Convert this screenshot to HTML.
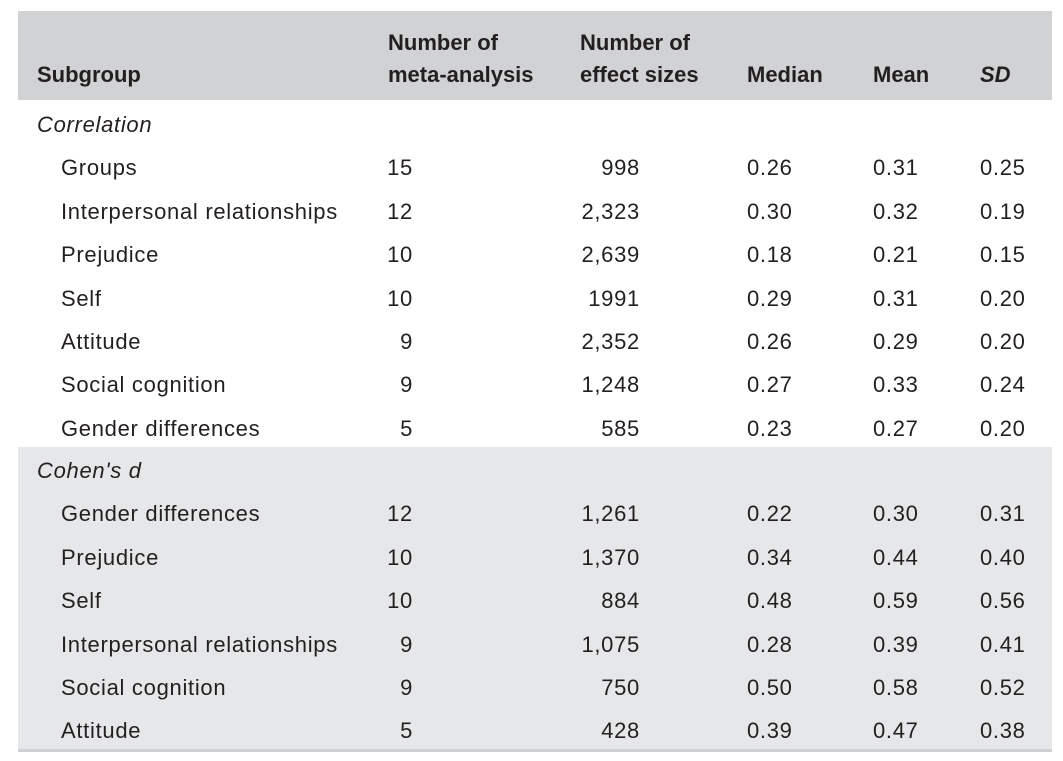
<!DOCTYPE html>
<html><head><meta charset="utf-8"><style>
body{margin:0;width:1063px;height:761px;background:#fff;position:relative;overflow:hidden;font-family:"Liberation Sans",sans-serif;color:#231f20;font-size:22px;letter-spacing:0.7px}
.bg{position:absolute}
.t{position:absolute;line-height:26px;white-space:nowrap}
.b{font-weight:bold;letter-spacing:0}
.i{font-style:italic}
</style></head><body>
<div class="bg" style="left:18px;top:11px;width:1034px;height:89px;background:#d1d2d4"></div>
<div class="bg" style="left:18px;top:447px;width:1034px;height:302px;background:#e6e7e8"></div>
<div class="bg" style="left:18px;top:749px;width:1034px;height:3px;background:#cfd0d2"></div>
<div id="tbl"></div>
<script>
const headers=[["Subgroup",37,74,false],["Number of",388,42,false],["meta-analysis",388,74,false],["Number of",580,42,false],["effect sizes",580,74,false],["Median",747,74,false],["Mean",873,74,false],["SD",980,74,true]];
const corr=[["Groups",15,"998","0.26","0.31","0.25"],["Interpersonal relationships",12,"2,323","0.30","0.32","0.19"],["Prejudice",10,"2,639","0.18","0.21","0.15"],["Self",10,"1991","0.29","0.31","0.20"],["Attitude",9,"2,352","0.26","0.29","0.20"],["Social cognition",9,"1,248","0.27","0.33","0.24"],["Gender differences",5,"585","0.23","0.27","0.20"]];
const cohen=[["Gender differences",12,"1,261","0.22","0.30","0.31"],["Prejudice",10,"1,370","0.34","0.44","0.40"],["Self",10,"884","0.48","0.59","0.56"],["Interpersonal relationships",9,"1,075","0.28","0.39","0.41"],["Social cognition",9,"750","0.50","0.58","0.52"],["Attitude",5,"428","0.39","0.47","0.38"]];
const tbl=document.getElementById('tbl');
function txt(s,x,cy,cls,name,right){
 const d=document.createElement('div');
 d.className='t '+cls;
 d.textContent=s;
 d.style.top=(cy-12)+'px';
 if(right){d.style.right=(1063-x)+'px';}else{d.style.left=x+'px';}
 
 
 tbl.appendChild(d);
}
headers.forEach(h=>txt(h[0],h[1],h[2],'b'+(h[3]?' i':''),'column-header',false));
const rowH=43.4;
function section(title,rows,startY){
 txt(title,37,startY,'i','section-title',false);
 rows.forEach((r,k)=>{
  const y=startY+rowH*(k+1);
  txt(r[0],61,y,'','subgroup-label',false);
  txt(String(r[1]),413,y,'','meta-analysis-count',true);
  txt(r[2],640,y,'','effect-size-count',true);
  txt(r[3],747,y,'','median-value',false);
  txt(r[4],873,y,'','mean-value',false);
  txt(r[5],980,y,'','sd-value',false);
 });
}
section("Correlation",corr,124);
section("Cohen's d",cohen,470);
</script>
</body></html>
